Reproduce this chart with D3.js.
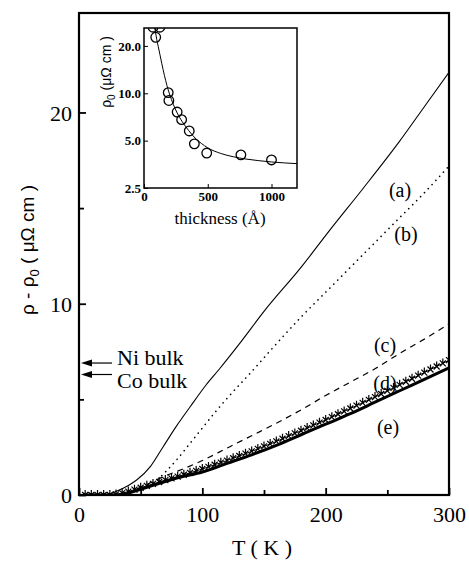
<!DOCTYPE html>
<html><head><meta charset="utf-8">
<script src="https://cdnjs.cloudflare.com/ajax/libs/d3/7.8.5/d3.min.js"></script>
<style>body{margin:0;background:#fff}svg{display:block}</style>
</head><body>
<script>
// ---------- data ----------
const curveA_T = [5, 15, 22, 29, 40, 47, 58, 68, 79, 90, 103, 114, 130, 150, 180, 204, 230, 260, 280, 300];
const curveA_V = [0, 0, 0, 0.16, 0.5, 0.8, 1.5, 2.5, 3.6, 4.6, 5.75, 6.6, 7.9, 9.6, 11.9, 13.9, 16.0, 18.5, 20.3, 22.1];
const curveB_T = [35, 40, 50, 60, 70, 80, 90, 100, 110, 120, 140, 160, 180, 200, 220, 240, 260, 280, 300];
const curveB_V = [0, 0.1, 0.3, 0.6, 1.2, 1.9, 2.7, 3.5, 4.3, 5.05, 6.45, 7.9, 9.3, 10.6, 11.9, 13.2, 14.5, 15.8, 17.2];
const curveC_T = [30, 40, 50, 60, 70, 80, 100, 120, 140, 160, 180, 200, 220, 240, 260, 280, 300];
const curveC_V = [0, 0.15, 0.4, 0.7, 1.0, 1.25, 1.8, 2.45, 3.1, 3.75, 4.45, 5.2, 5.9, 6.6, 7.4, 8.15, 8.95];
const curveD_T = [5,10,15,20,25,30,35,40,45,50,55,60,65,70,75,80,85,90,95,100,105,110,115,120,125,130,135,140,145,150,155,160,165,170,175,180,185,190,195,200,205,210,215,220,225,230,235,240,245,250,255,260,265,270,275,280,285,290,295,300];
const curveD_V = [0,0,0,0,0,0.03,0.1,0.18,0.28,0.38,0.48,0.58,0.68,0.78,0.87,0.96,1.06,1.16,1.26,1.36,1.47,1.58,1.69,1.8,1.92,2.04,2.16,2.28,2.41,2.54,2.67,2.8,2.94,3.08,3.22,3.36,3.5,3.64,3.78,3.92,4.07,4.22,4.37,4.52,4.67,4.82,4.97,5.12,5.28,5.44,5.6,5.76,5.92,6.08,6.24,6.4,6.56,6.72,6.88,7.05];
const curveE_T = [5, 20, 30, 40, 50, 60, 70, 80, 100, 120, 140, 160, 180, 200, 220, 240, 260, 280, 300];
const curveE_V = [0, 0, 0, 0.1, 0.3, 0.5, 0.7, 0.9, 1.2, 1.65, 2.1, 2.6, 3.15, 3.7, 4.25, 4.85, 5.45, 6.05, 6.65];
const curveLabels = ["(a)", "(b)", "(c)", "(d)", "(e)"];
const bulkNames = ["Ni bulk", "Co bulk"];
const bulkValues = [6.9, 6.3];
const xTicks = [0, 100, 200, 300];
const xMinor = [50, 150, 250];
const yTicks = [0, 10, 20];
const yMinor = [5, 15];
// inset
const insetT = [71, 124, 92, 190, 195, 260, 295, 355, 395, 492, 760, 1000];
const insetR = [26.3, 26.3, 22.7, 10.1, 9.0, 7.6, 6.8, 5.76, 4.77, 4.17, 4.06, 3.77];
const fitT = [80, 90, 100, 112, 125, 140, 160, 180, 200, 230, 260, 300, 350, 400, 450, 500, 600, 700, 800, 900, 1000, 1100, 1200];
const fitR = [27, 24.5, 22, 19.8, 17.6, 15.4, 13.0, 11.2, 9.9, 8.5, 7.5, 6.6, 5.8, 5.2, 4.8, 4.5, 4.15, 3.95, 3.82, 3.73, 3.66, 3.61, 3.57];
const insetXTicks = [0, 500, 1000];
const insetYTicks = [2.5, 5, 10, 20];

// ---------- drawing ----------
const W = 469, H = 562;
const svg = d3.select("body").append("svg").attr("width", W).attr("height", H);
const serif = "'Liberation Serif', 'Times New Roman', serif";
const sans = "'Liberation Sans', Arial, sans-serif";

const x = d3.scaleLinear().domain([0, 300]).range([79, 449]);
const y = d3.scaleLinear().domain([0, 25.2]).range([495, 13]);

const defs = svg.append("defs");
defs.append("clipPath").attr("id", "clipMain").append("rect")
  .attr("x", 79).attr("y", 13).attr("width", 370).attr("height", 482);

const zip = (a, b) => a.map((t, i) => [t, b[i]]);
const line = d3.line().x(d => x(d[0])).y(d => y(d[1])).curve(d3.curveMonotoneX);

const plot = svg.append("g").attr("clip-path", "url(#clipMain)");
plot.append("path").datum(zip(curveA_T, curveA_V)).attr("d", line)
  .attr("fill", "none").attr("stroke", "#000").attr("stroke-width", 1.1);
plot.append("path").datum(zip(curveB_T, curveB_V)).attr("d", line)
  .attr("fill", "none").attr("stroke", "#000").attr("stroke-width", 1.6)
  .attr("stroke-dasharray", "0.1,5.5").attr("stroke-linecap", "round");
plot.append("path").datum(zip(curveC_T, curveC_V)).attr("d", line)
  .attr("fill", "none").attr("stroke", "#000").attr("stroke-width", 1.2)
  .attr("stroke-dasharray", "6,5");
plot.append("path").datum(zip(curveD_T, curveD_V)).attr("d", line)
  .attr("fill", "none").attr("stroke", "#000").attr("stroke-width", 1);
const mk = plot.append("g");
zip(curveD_T, curveD_V).forEach(d => {
  const cx = x(d[0]), cy = y(d[1]);
  mk.append("path").attr("d", `M${cx-3},${cy-3}L${cx+3},${cy+3}M${cx-3},${cy+3}L${cx+3},${cy-3}M${cx},${cy}L${cx},${cy-5}`)
    .attr("stroke", "#000").attr("stroke-width", 1.2).attr("fill", "none");
});
plot.append("path").datum(zip(curveE_T, curveE_V)).attr("d", line)
  .attr("fill", "none").attr("stroke", "#000").attr("stroke-width", 3);

// frame
svg.append("rect").attr("x", 79).attr("y", 13).attr("width", 370).attr("height", 482)
  .attr("fill", "none").attr("stroke", "#000").attr("stroke-width", 2.2);

// axes with inward ticks
const xAxis = svg.append("g").attr("transform", "translate(0,495)")
  .call(d3.axisBottom(x).tickValues(xTicks).tickSize(-7).tickFormat(d3.format("d")));
xAxis.select(".domain").remove();
xAxis.selectAll("text").attr("font-family", serif).attr("font-size", 22).attr("dy", null).attr("y", 27);
xAxis.selectAll("line").attr("stroke-width", 1.8);
const xAxisM = svg.append("g").attr("transform", "translate(0,495)")
  .call(d3.axisBottom(x).tickValues(xMinor).tickSize(-5).tickFormat(""));
xAxisM.select(".domain").remove();
xAxisM.selectAll("line").attr("stroke-width", 1.8);

const yAxis = svg.append("g").attr("transform", "translate(79,0)")
  .call(d3.axisLeft(y).tickValues(yTicks).tickSize(-7).tickFormat(d3.format("d")));
yAxis.select(".domain").remove();
yAxis.selectAll("text").attr("font-family", serif).attr("font-size", 22).attr("x", -7).attr("dy", "0.35em");
yAxis.selectAll("line").attr("stroke-width", 1.8);
const yAxisM = svg.append("g").attr("transform", "translate(79,0)")
  .call(d3.axisLeft(y).tickValues(yMinor).tickSize(-5).tickFormat(""));
yAxisM.select(".domain").remove();
yAxisM.selectAll("line").attr("stroke-width", 1.8);

// axis titles
svg.append("text").attr("x", 262).attr("y", 555).attr("text-anchor", "middle")
  .attr("font-family", serif).attr("font-size", 22).text("T ( K )");
const yl = svg.append("text").attr("transform", "translate(34,250) rotate(-90)")
  .attr("text-anchor", "middle").attr("font-family", sans).attr("font-size", 19);
yl.append("tspan").text("ρ - ρ");
yl.append("tspan").attr("font-size", 13).attr("dy", 5).text("0");
yl.append("tspan").attr("dy", -5).text("  ( μΩ cm )");

// curve labels
const labelPos = [[400, 190], [406, 234], [385, 345], [385, 383], [388, 427]];
curveLabels.forEach((t, i) => {
  svg.append("text").attr("x", labelPos[i][0]).attr("y", labelPos[i][1]).attr("dy", "0.35em")
    .attr("text-anchor", "middle").attr("font-family", serif).attr("font-size", 20).text(t);
});

// bulk arrows
defs.append("marker").attr("id", "arr").attr("viewBox", "0 0 10 10").attr("refX", 0).attr("refY", 5)
  .attr("markerWidth", 10).attr("markerHeight", 7).attr("orient", "auto-start-reverse")
  .attr("markerUnits", "userSpaceOnUse")
  .append("path").attr("d", "M0,5L10,0L10,10Z").attr("fill", "#000");
const textOff = [-6, 6];
bulkNames.forEach((n, i) => {
  const yy = y(bulkValues[i]);
  svg.append("line").attr("x1", 112).attr("x2", 92).attr("y1", yy).attr("y2", yy)
    .attr("stroke", "#000").attr("stroke-width", 1.2);
  svg.append("path").attr("d", `M81,${yy}L92,${yy-3.5}L92,${yy+3.5}Z`).attr("fill", "#000");
  svg.append("text").attr("x", 117).attr("y", yy + textOff[i]).attr("dy", "0.35em")
    .attr("font-family", serif).attr("font-size", 22).text(n);
});

// ---------- inset ----------
const xi = d3.scaleLinear().domain([0, 1200]).range([144, 297]);
const yi = d3.scaleLog().domain([2.5, 26]).range([188, 28]);
defs.append("clipPath").attr("id", "clipIn").append("rect")
  .attr("x", 144).attr("y", 28).attr("width", 153).attr("height", 160);
svg.append("rect").attr("x", 144).attr("y", 28).attr("width", 153).attr("height", 160).attr("fill", "#fff");
const ig = svg.append("g").attr("clip-path", "url(#clipIn)");
const iline = d3.line().x(d => xi(d[0])).y(d => yi(d[1])).curve(d3.curveMonotoneX);
ig.append("path").datum(zip(fitT, fitR)).attr("d", iline)
  .attr("fill", "none").attr("stroke", "#000").attr("stroke-width", 1);
ig.selectAll("circle").data(zip(insetT, insetR)).join("circle")
  .attr("cx", d => xi(d[0])).attr("cy", d => yi(d[1])).attr("r", 4.8)
  .attr("fill", "none").attr("stroke", "#000").attr("stroke-width", 1.3);
svg.append("rect").attr("x", 144).attr("y", 28).attr("width", 153).attr("height", 160)
  .attr("fill", "none").attr("stroke", "#000").attr("stroke-width", 1.5);
const ixa = svg.append("g").attr("transform", "translate(0,188)")
  .call(d3.axisBottom(xi).tickValues(insetXTicks).tickSize(-4).tickFormat(d3.format("d")));
ixa.select(".domain").remove();
ixa.selectAll("text").attr("font-family", serif).attr("font-size", 13).attr("font-weight", "bold").attr("y", 4);
const iya = svg.append("g").attr("transform", "translate(144,0)")
  .call(d3.axisLeft(yi).tickValues(insetYTicks).tickSize(-4).tickFormat(d3.format(".1f")));
iya.select(".domain").remove();
iya.selectAll("text").attr("font-family", serif).attr("font-size", 13).attr("font-weight", "bold").attr("x", -3);
svg.append("text").attr("x", 220).attr("y", 224).attr("text-anchor", "middle")
  .attr("font-family", serif).attr("font-size", 17).text("thickness (Å)");
const iyl = svg.append("text").attr("transform", "translate(111,72) rotate(-90)")
  .attr("text-anchor", "middle").attr("font-family", sans).attr("font-size", 14);
iyl.append("tspan").text("ρ");
iyl.append("tspan").attr("font-size", 10).attr("dy", 4).text("0");
iyl.append("tspan").attr("dy", -4).text(" (μΩ cm )");
</script>
</body></html>
